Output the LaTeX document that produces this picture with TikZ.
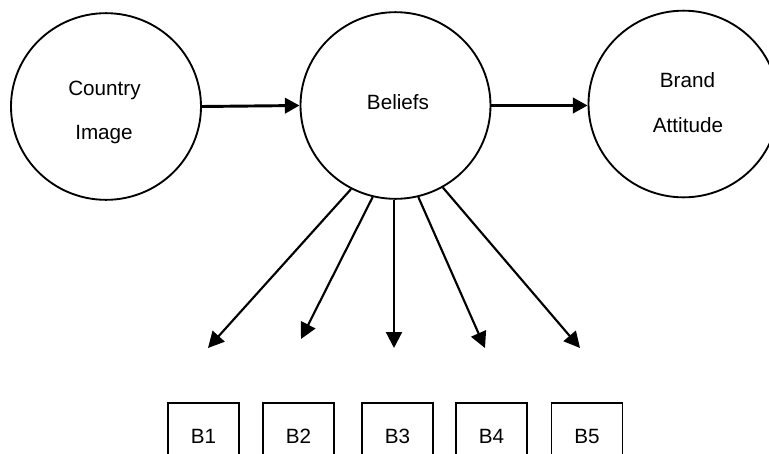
\documentclass[tikz,border=0pt]{standalone}
\usepackage{fontspec}
\setmainfont{Liberation Sans}
\usetikzlibrary{arrows.meta,shapes.geometric}

\begin{document}
\begin{tikzpicture}[x=0.75pt,y=-0.75pt,
  construct/.style={draw,ellipse,line width=1.4pt,minimum width=142.5pt,minimum height=140pt,inner sep=0pt},
  indicator/.style={draw,rectangle,line width=1pt,minimum width=53.25pt,minimum height=49.5pt,inner sep=0pt,
    font=\fontsize{15.5}{18}\selectfont},
  txt/.style={anchor=base,inner sep=0pt,font=\fontsize{15.5}{18}\selectfont},
  structpath/.style={line width=2.2pt,-{Triangle[length=11pt,width=11.5pt]}},
  loading/.style={line width=1.6pt,-{Triangle[length=12pt,width=12pt]}}
]
\useasboundingbox (0,0) rectangle (769,454);
\clip (0,0) rectangle (769,454);

% latent constructs
\node[construct] (ci) at (106,106.5) {};
\node[construct] (be) at (395.5,105.5) {};
\node[construct] (ba) at (683.5,104) {};

\node[txt] (ci1) at (104.5,95) {Country};
\node[txt] (ci2) at (104,139) {Image};
\node[txt] (be1) at (398,109) {Beliefs};
\node[txt] (ba1) at (687.5,87) {Brand};
\node[txt] (ba2) at (688,132) {Attitude};

% structural paths
\draw[structpath] (ci.east) -- (be.west);
\draw[structpath] (be.east) -- (be.east -| ba.west);

% indicators
\node[indicator] (b1) at (203.5,436) {B1};
\node[indicator] (b2) at (298.5,436) {B2};
\node[indicator] (b3) at (397.5,436) {B3};
\node[indicator] (b4) at (491.5,436) {B4};
\node[indicator] (b5) at (587,436) {B5};

% loading arrow tips
\coordinate (t1) at (208,348);
\coordinate (t2) at (301,339);
\coordinate (t3) at (394,348);
\coordinate (t4) at (485,348);
\coordinate (t5) at (580,348);

\draw[loading] (be.242.6) -- (t1);
\draw[loading] (be.256.1) -- (t2);
\draw[loading] (be.south -| t3) -- (t3);
\draw[loading] (be.284) -- (t4);
\draw[loading] (be.300) -- (t5);
\end{tikzpicture}
\end{document}
